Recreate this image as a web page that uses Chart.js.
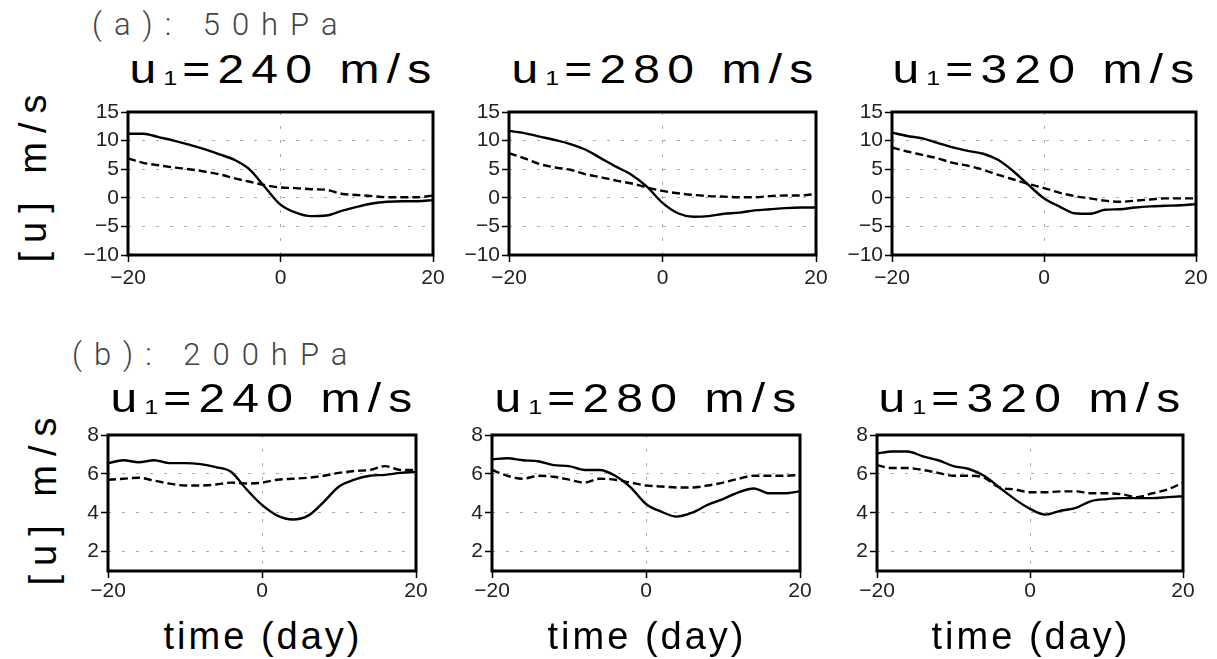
<!DOCTYPE html>
<html>
<head>
<meta charset="utf-8">
<script src="https://cdn.jsdelivr.net/npm/chart.js@4.4.1/dist/chart.umd.min.js"></script>
<style>
  body { margin: 0; background: #fff; width: 1217px; height: 659px; position: relative; overflow: hidden; }
  .txt { position: absolute; white-space: nowrap; font-family: "Liberation Sans", Arial, sans-serif; color: #000; }
  .title { font-size: 40px; line-height: 40px; letter-spacing: 6px; text-align: center; width: 400px; transform: scaleX(1.2); }
  .title sub { font-size: 21px; vertical-align: -2px; letter-spacing: 4px; }
  .panel-lab { font-family: Roboto, "Liberation Sans", sans-serif; font-weight: 300; font-size: 31px; line-height: 31px; letter-spacing: 12px; color: #444; }
  .xlab { font-size: 38px; line-height: 38px; letter-spacing: 3px; text-align: center; width: 300px; }
  .ylab { font-size: 38px; line-height: 38px; letter-spacing: 9px; text-align: center; width: 240px; transform: rotate(-90deg); }
  canvas { position: absolute; }
</style>
</head>
<body>

<script>
// days on the x axis (every 2 days)
const days = [-20, -18, -16, -14, -12, -10, -8, -6, -4, -2, 0, 2, 4, 6, 8, 10, 12, 14, 16, 18, 20];
const xTicks = [-20, 0, 20];
const xTickLabels = ['\u221220', '0', '20'];

const yTicks50 = [-10, -5, 0, 5, 10, 15];
const yTickLabels50 = ['\u221210', '\u22125', '0', '5', '10', '15'];
const yTicks200 = [2, 4, 6, 8];
const yTickLabels200 = ['2', '4', '6', '8'];

const speeds = ['240', '280', '320'];

// (a) 50hPa
const solid50_240 = [11.2, 11.2, 10.6, 10.0, 9.3, 8.5, 7.6, 6.6, 4.9, 1.8, -1.2, -2.6, -3.2, -3.1, -2.3, -1.6, -1.0, -0.7, -0.6, -0.6, -0.4];
const dash50_240  = [6.9, 6.1, 5.7, 5.3, 5.0, 4.6, 4.1, 3.4, 2.8, 2.2, 1.8, 1.7, 1.5, 1.4, 0.7, 0.5, 0.3, 0.1, 0.1, 0.1, 0.4];
const solid50_280 = [11.7, 11.3, 10.7, 10.1, 9.4, 8.4, 6.9, 5.4, 4.0, 1.9, -0.9, -2.7, -3.3, -3.2, -2.8, -2.6, -2.2, -2.0, -1.8, -1.7, -1.7];
const dash50_280  = [7.8, 6.9, 5.9, 5.3, 4.9, 4.1, 3.6, 3.0, 2.5, 1.8, 1.2, 0.8, 0.5, 0.3, 0.2, 0.1, 0.1, 0.3, 0.4, 0.4, 0.7];
const solid50_320 = [11.4, 10.8, 10.4, 9.6, 8.8, 8.2, 7.7, 6.6, 4.6, 2.2, -0.1, -1.5, -2.7, -2.8, -2.1, -2.0, -1.7, -1.5, -1.4, -1.3, -1.1];
const dash50_320  = [8.8, 8.1, 7.5, 6.9, 6.1, 5.6, 4.9, 4.0, 3.2, 2.4, 1.7, 0.9, 0.3, -0.1, -0.5, -0.7, -0.5, -0.3, -0.1, -0.1, -0.1];

// (b) 200hPa
const solid200_240 = [6.55, 6.7, 6.6, 6.7, 6.55, 6.55, 6.5, 6.35, 6.1, 5.2, 4.4, 3.85, 3.65, 3.85, 4.55, 5.35, 5.7, 5.9, 5.95, 6.05, 6.1];
const dash200_240  = [5.7, 5.75, 5.8, 5.65, 5.5, 5.4, 5.4, 5.45, 5.55, 5.5, 5.55, 5.7, 5.75, 5.8, 5.9, 6.05, 6.15, 6.2, 6.4, 6.2, 6.2];
const solid200_280 = [6.75, 6.8, 6.7, 6.65, 6.45, 6.4, 6.2, 6.2, 5.9, 5.3, 4.45, 4.05, 3.8, 4.0, 4.4, 4.7, 5.05, 5.25, 5.0, 5.0, 5.1];
const dash200_280  = [6.2, 5.9, 5.75, 5.9, 5.85, 5.7, 5.55, 5.75, 5.7, 5.55, 5.4, 5.35, 5.3, 5.3, 5.4, 5.55, 5.75, 5.9, 5.9, 5.9, 5.95];
const solid200_320 = [7.05, 7.15, 7.15, 6.9, 6.7, 6.4, 6.25, 5.9, 5.3, 4.7, 4.2, 3.9, 4.1, 4.25, 4.6, 4.7, 4.75, 4.75, 4.75, 4.8, 4.85];
const dash200_320  = [6.45, 6.3, 6.3, 6.2, 6.05, 5.9, 5.9, 5.8, 5.3, 5.2, 5.05, 5.05, 5.1, 5.1, 5.0, 5.0, 4.95, 4.8, 5.0, 5.2, 5.55];

// plot boxes (left, top, width, height) in page pixels
const boxes = [
  [128, 112, 305, 143], [509, 112, 307, 143], [892, 112, 304, 143],
  [108, 435, 308, 136], [492, 435, 308, 136], [877, 435, 306, 136]
];

const AX_W = 60, AX_H = 36, PAD_T = 14, PAD_R = 24;

// black frame round the plot area
const frame = {
  id: 'frame',
  afterDatasetsDraw(chart) {
    const a = chart.chartArea, c = chart.ctx;
    c.save();
    c.strokeStyle = '#000';
    c.lineWidth = 3;
    c.strokeRect(a.left, a.top, a.right - a.left, a.bottom - a.top);
    c.restore();
  }
};

function addText(cls, html, left, top) {
  const d = document.createElement('div');
  d.className = 'txt ' + cls;
  d.innerHTML = html;
  d.style.left = left + 'px';
  d.style.top = top + 'px';
  document.body.appendChild(d);
}

function makePanel(i, solid, dashed, yMin, yMax, yTicks, yLabels) {
  const [l, t, w, h] = boxes[i];
  const cv = document.createElement('canvas');
  cv.width = w + AX_W + PAD_R;
  cv.height = h + PAD_T + AX_H;
  cv.style.left = (l - AX_W) + 'px';
  cv.style.top = (t - PAD_T) + 'px';
  document.body.appendChild(cv);

  new Chart(cv, {
    type: 'line',
    data: {
      datasets: [
        { data: days.map((d, k) => ({ x: d, y: solid[k] })), borderColor: '#000', borderWidth: 2.4,
          pointRadius: 0, cubicInterpolationMode: 'monotone' },
        { data: days.map((d, k) => ({ x: d, y: dashed[k] })), borderColor: '#000', borderWidth: 2.4,
          borderDash: [8, 4], pointRadius: 0, cubicInterpolationMode: 'monotone' }
      ]
    },
    options: {
      responsive: false,
      animation: false,
      devicePixelRatio: 1,
      layout: { padding: { top: PAD_T, right: PAD_R, left: 0, bottom: 0 } },
      plugins: { legend: { display: false }, tooltip: { enabled: false } },
      scales: {
        x: {
          type: 'linear', min: -20, max: 20,
          afterBuildTicks: s => { s.ticks = xTicks.map(v => ({ value: v })); },
          afterFit: s => { s.height = AX_H; s.paddingLeft = 0; s.paddingRight = 0; },
          ticks: {
            autoSkip: false, maxRotation: 0, padding: i < 3 ? 4 : 1,
            color: '#222', font: { family: 'Liberation Sans', size: 21 },
            callback: v => xTickLabels[xTicks.indexOf(v)]
          },
          grid: { color: '#aaa', lineWidth: 1, tickLength: 7, tickColor: '#000', tickWidth: 1.5, tickBorderDash: [] },
          border: { display: false, dash: [3, 11] }
        },
        y: {
          min: yMin, max: yMax,
          afterBuildTicks: s => { s.ticks = yTicks.map(v => ({ value: v })); },
          afterFit: s => { s.width = AX_W; s.paddingTop = 0; s.paddingBottom = 0; },
          ticks: {
            autoSkip: false, padding: 2,
            color: '#222', font: { family: 'Liberation Sans', size: 21 },
            callback: v => yLabels[yTicks.indexOf(v)]
          },
          grid: { color: '#aaa', lineWidth: 1, tickLength: 7, tickColor: '#000', tickWidth: 1.5, tickBorderDash: [] },
          border: { display: false, dash: [3, 11] }
        }
      }
    },
    plugins: [frame]
  });

  // panel title
  const cx = l + w / 2;
  addText('title', 'u<sub>1</sub>=' + speeds[i % 3] + ' m/s', cx - 200 + 3, i < 3 ? 49 : 378);
  if (i >= 3) addText('xlab', 'time (day)', cx - 150 + 1, 617);
}

addText('panel-lab', '(a): 50hPa', 92, 9);
addText('panel-lab', '(b): 200hPa', 72, 339);
addText('ylab', '[u] m/s', 33 - 120, 174 - 19);
addText('ylab', '[u] m/s', 43 - 120, 497 - 19);

makePanel(0, solid50_240, dash50_240, -10, 15, yTicks50, yTickLabels50);
makePanel(1, solid50_280, dash50_280, -10, 15, yTicks50, yTickLabels50);
makePanel(2, solid50_320, dash50_320, -10, 15, yTicks50, yTickLabels50);
makePanel(3, solid200_240, dash200_240, 1, 8, yTicks200, yTickLabels200);
makePanel(4, solid200_280, dash200_280, 1, 8, yTicks200, yTickLabels200);
makePanel(5, solid200_320, dash200_320, 1, 8, yTicks200, yTickLabels200);
</script>
</body>
</html>
